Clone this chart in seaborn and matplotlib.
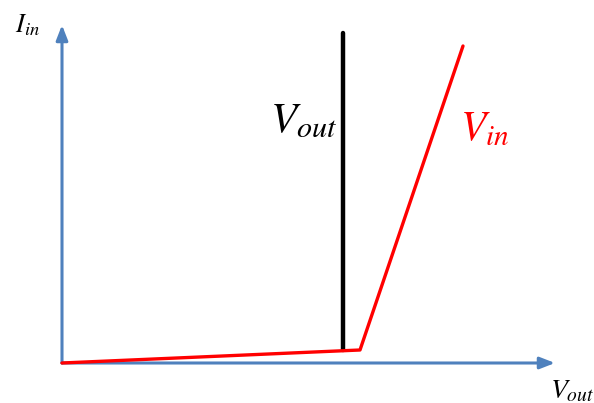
import numpy as np
import pandas as pd
import matplotlib
matplotlib.use("Agg")
import matplotlib.pyplot as plt
import seaborn as sns

# data in a frame whose origin is the corner of the two axes
vin_x = [0, 298, 401]
vin_y = [0, 13, 317]
vout_x = [281, 281]
vout_y = [13, 330]
axis_x_end = 493
axis_y_end = 338

sns.set_style("white")
plt.rcParams["mathtext.fontset"] = "stix"

fig = plt.figure(figsize=(5.94, 4.03), dpi=100)
ax = fig.add_axes([0, 0, 1, 1])

blue = "#4F81BD"

# axes with arrow heads
ax.annotate("", xy=(axis_x_end, 0), xytext=(0, 0),
            arrowprops=dict(arrowstyle="-|>,head_length=0.9,head_width=0.35",
                            color=blue, lw=2.2, shrinkA=0, shrinkB=0))
ax.annotate("", xy=(0, axis_y_end), xytext=(0, 0),
            arrowprops=dict(arrowstyle="-|>,head_length=0.9,head_width=0.35",
                            color=blue, lw=2.2, shrinkA=0, shrinkB=0))

df_in = pd.DataFrame({"x": vin_x, "y": vin_y})
df_out = pd.DataFrame({"x": vout_x, "y": vout_y})

sns.lineplot(data=df_out, x="x", y="y", color="black", linewidth=3.2,
             sort=False, estimator=None, ax=ax, zorder=3)
sns.lineplot(data=df_in, x="x", y="y", color="#FF0000", linewidth=2.4,
             sort=False, estimator=None, ax=ax, zorder=4)

ax.text(-35, 338, r"$I_{in}$", fontsize=19, ha="center", va="center",
        color="black")
ax.text(242, 243, r"$V_{out}$", fontsize=31, ha="center", va="center",
        color="black")
ax.text(423, 235, r"$V_{in}$", fontsize=30, ha="center", va="center",
        color="#FF0000")
ax.text(510, -27, r"$V_{out}$", fontsize=20, ha="center", va="center",
        color="black")

ax.set_xlim(-62, 532)
ax.set_ylim(-40, 363)
ax.axis("off")

fig.savefig("out.png", dpi=100)
